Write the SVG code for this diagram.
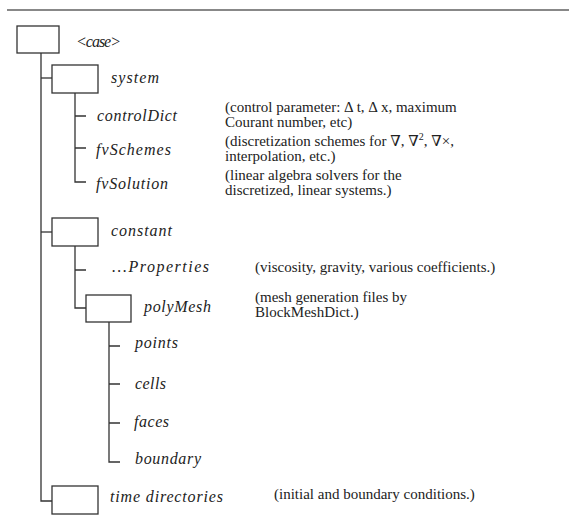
<svg xmlns="http://www.w3.org/2000/svg" width="569" height="518" viewBox="0 0 569 518">
<style>
.bg{fill:#fff}
.box{fill:#fff;stroke:#333;stroke-width:1.3}
.ln{fill:none;stroke:#333;stroke-width:1.3}
.lbl{font-family:"Liberation Serif","DejaVu Serif",serif;font-style:italic;font-size:16px;fill:#222}
.dsc{font-family:"Liberation Serif","DejaVu Serif",serif;font-size:15px;fill:#222}
</style>
<rect class="bg" x="0" y="0" width="569" height="518"/>
<line x1="7" y1="10" x2="569" y2="10" stroke="#888" stroke-width="2"/>
<g id="connectors">
<path class="ln" d="M41,53 V501 H52"/>
<path class="ln" d="M41,78 H52"/>
<path class="ln" d="M41,232 H52"/>
<path class="ln" d="M75,93 V182 H86 M75,116 H86 M75,148 H86"/>
<path class="ln" d="M75,246 V308 H86 M75,270 H86"/>
<path class="ln" d="M109,322 V462 H120 M109,346 H120 M109,384 H120 M109,423 H120"/>
</g>
<g id="case"><rect class="box" x="17" y="26" width="42" height="27"/><text class="lbl" x="76" y="47" textLength="45">&lt;case&gt;</text></g>
<g id="system"><rect class="box" x="52" y="65" width="46" height="28"/><text class="lbl" x="111" y="83" textLength="48">system</text></g>
<g id="controlDict"><text class="lbl" x="97" y="121" textLength="80">controlDict</text>
<text class="dsc" x="225" y="112">(control parameter: Δ t, Δ x, maximum</text><text class="dsc" x="225" y="127">Courant number, etc)</text></g>
<g id="fvSchemes"><text class="lbl" x="96" y="155" textLength="75">fvSchemes</text>
<text class="dsc" x="225" y="146">(discretization schemes for ∇, ∇<tspan font-size="10" dy="-6">2</tspan><tspan dy="6">, ∇×,</tspan></text><text class="dsc" x="225" y="161">interpolation, etc.)</text></g>
<g id="fvSolution"><text class="lbl" x="96" y="189" textLength="72">fvSolution</text>
<text class="dsc" x="225" y="180">(linear algebra solvers for the</text><text class="dsc" x="225" y="195">discretized, linear systems.)</text></g>
<g id="constant"><rect class="box" x="52" y="218" width="46" height="28"/><text class="lbl" x="111" y="236" textLength="61">constant</text></g>
<g id="properties"><text class="lbl" x="112" y="272" textLength="97">...Properties</text>
<text class="dsc" x="255" y="272">(viscosity, gravity, various coefficients.)</text></g>
<g id="polyMesh"><rect class="box" x="86" y="295" width="45" height="27"/><text class="lbl" x="144" y="312" textLength="67">polyMesh</text>
<text class="dsc" x="255" y="302">(mesh generation files by</text><text class="dsc" x="255" y="317">BlockMeshDict.)</text></g>
<g id="points"><text class="lbl" x="135" y="348" textLength="43">points</text></g>
<g id="cells"><text class="lbl" x="135" y="389" textLength="31">cells</text></g>
<g id="faces"><text class="lbl" x="134" y="427" textLength="35">faces</text></g>
<g id="boundary"><text class="lbl" x="135" y="464" textLength="66">boundary</text></g>
<g id="time"><rect class="box" x="52" y="486" width="46" height="28"/><text class="lbl" x="110" y="502" textLength="113">time directories</text>
<text class="dsc" x="274" y="499">(initial and boundary conditions.)</text></g>
</svg>
